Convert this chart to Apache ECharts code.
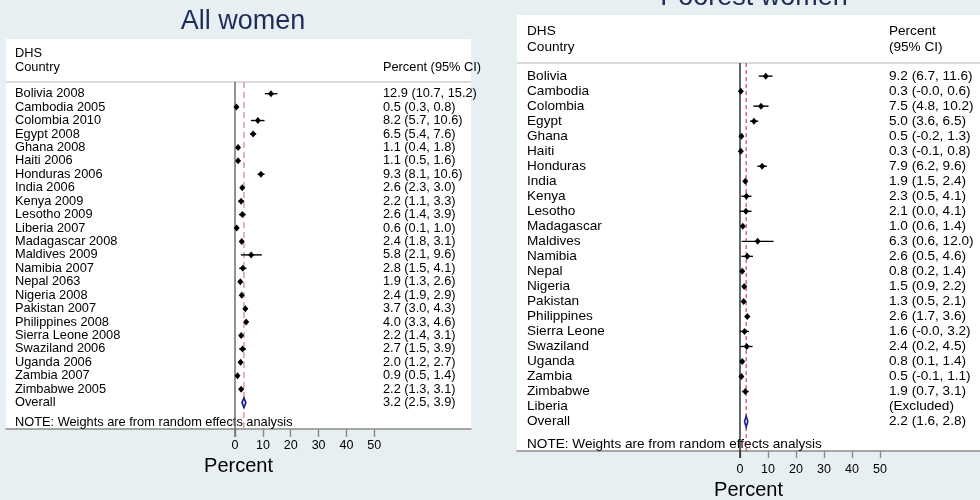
<!DOCTYPE html>
<html>
<head>
<meta charset="utf-8">
<script src="https://cdn.jsdelivr.net/npm/echarts@6/dist/echarts.min.js"></script>
<style>
  html, body { margin: 0; padding: 0; background: #e7eff2; }
  #chart { width: 980px; height: 500px; }
</style>
</head>
<body>
<div id="chart"></div>
<script>
// ---- All women: prevalence (%) with 95% CI by DHS survey ----
const allCountries = [
  'Bolivia 2008', 'Cambodia 2005', 'Colombia 2010', 'Egypt 2008', 'Ghana 2008',
  'Haiti 2006', 'Honduras 2006', 'India 2006', 'Kenya 2009', 'Lesotho 2009',
  'Liberia 2007', 'Madagascar 2008', 'Maldives 2009', 'Namibia 2007', 'Nepal 2063',
  'Nigeria 2008', 'Pakistan 2007', 'Philippines 2008', 'Sierra Leone 2008',
  'Swaziland 2006', 'Uganda 2006', 'Zambia 2007', 'Zimbabwe 2005'
];
const allEst = [12.9, 0.5, 8.2, 6.5, 1.1, 1.1, 9.3, 2.6, 2.2, 2.6, 0.6, 2.4, 5.8, 2.8, 1.9, 2.4, 3.7, 4.0, 2.2, 2.7, 2.0, 0.9, 2.2];
const allLo  = [10.7, 0.3, 5.7, 5.4, 0.4, 0.5, 8.1, 2.3, 1.1, 1.4, 0.1, 1.8, 2.1, 1.5, 1.3, 1.9, 3.0, 3.3, 1.4, 1.5, 1.2, 0.5, 1.3];
const allHi  = [15.2, 0.8, 10.6, 7.6, 1.8, 1.6, 10.6, 3.0, 3.3, 3.9, 1.0, 3.1, 9.6, 4.1, 2.6, 2.9, 4.3, 4.6, 3.1, 3.9, 2.7, 1.4, 3.1];
const allOverall = [3.2, 2.5, 3.9];

// ---- Poorest women (Liberia excluded) ----
const poorCountries = [
  'Bolivia', 'Cambodia', 'Colombia', 'Egypt', 'Ghana', 'Haiti', 'Honduras', 'India',
  'Kenya', 'Lesotho', 'Madagascar', 'Maldives', 'Namibia', 'Nepal', 'Nigeria',
  'Pakistan', 'Philippines', 'Sierra Leone', 'Swaziland', 'Uganda', 'Zambia',
  'Zimbabwe', 'Liberia'
];
const poorEst = [9.2, 0.3, 7.5, 5.0, 0.5, 0.3, 7.9, 1.9, 2.3, 2.1, 1.0, 6.3, 2.6, 0.8, 1.5, 1.3, 2.6, 1.6, 2.4, 0.8, 0.5, 1.9, null];
const poorLo  = [6.7, -0.0, 4.8, 3.6, -0.2, -0.1, 6.2, 1.5, 0.5, 0.0, 0.6, 0.6, 0.5, 0.2, 0.9, 0.5, 1.7, -0.0, 0.2, 0.1, -0.1, 0.7, null];
const poorHi  = [11.6, 0.6, 10.2, 6.5, 1.3, 0.8, 9.6, 2.4, 4.1, 4.1, 1.4, 12.0, 4.6, 1.4, 2.2, 2.1, 3.6, 3.2, 4.5, 1.4, 1.1, 3.1, null];
const poorOverall = [2.2, 1.6, 2.8];

const xTickValues = [0, 10, 20, 30, 40, 50];
const noteText = 'NOTE: Weights are from random effects analysis';

const FONT = "'Liberation Sans', Arial, Helvetica, sans-serif";

// one decimal, keeping the sign of a negative zero
function fmt(v) {
  if (v < 0 || Object.is(v, -0)) return '-' + Math.abs(v).toFixed(1);
  return v.toFixed(1);
}

function buildRows(names, est, lo, hi, overall) {
  const rows = names.map((n, i) => ({
    name: n, est: est[i], lo: lo[i], hi: hi[i], overall: false
  }));
  rows.push({ name: 'Overall', est: overall[0], lo: overall[1], hi: overall[2], overall: true });
  return rows;
}

const panels = [
  {
    title: 'All women', titleX: 238, titleTop: 3,
    grid: { left: 6, top: 39, width: 465, height: 390 },
    xMin: -82.2, xMax: 84.7,
    rows: buildRows(allCountries, allEst, allLo, allHi, allOverall),
    fontSize: 12.8, nameOffset: 9, ciTextX: 53.1,
    headerCI: ['Percent (95% CI)'],
    zeroColor: '#6e6e6e', zeroWidth: 1.5,
    refColor: '#d69c9e', refDash: [6, 4], refWidth: 1.5,
    labelMargin: 10, tickLen: 8, nameGap: 26
  },
  {
    title: 'Poorest women', titleX: 749, titleTop: -21,
    grid: { left: 517, top: 15, width: 463, height: 436 },
    xMin: -79.64, xMax: 85.71,
    rows: buildRows(poorCountries, poorEst, poorLo, poorHi, poorOverall),
    fontSize: 13.6, nameOffset: 10, ciTextX: 53.2,
    headerCI: ['Percent', '(95% CI)'],
    zeroColor: '#000000', zeroWidth: 1.2,
    refColor: '#c0262c', refDash: [4, 3], refWidth: 1,
    labelMargin: 12, tickLen: 7, nameGap: 26.5
  }
];

const ROW_MIN = -4.07, ROW_MAX = 24.96;
const SEP_ROW = -0.87, NOTE_ROW = 24.5;

const option = {
  animation: false,
  backgroundColor: '#e7eff2',
  title: panels.map(p => ({
    text: p.title,
    left: p.titleX,
    top: p.titleTop,
    textAlign: 'center',
    textStyle: { fontFamily: FONT, fontSize: 27, fontWeight: 'normal', color: '#1e2c58' }
  })),
  grid: panels.map(p => Object.assign({
    show: true, backgroundColor: '#ffffff', borderWidth: 0,
    containLabel: false, outerBoundsMode: 'none'
  }, p.grid)),
  xAxis: panels.map((p, k) => ({
    type: 'value', gridIndex: k, min: p.xMin, max: p.xMax, position: 'bottom',
    name: 'Percent', nameLocation: 'middle', nameGap: p.nameGap,
    nameTextStyle: { fontFamily: FONT, fontSize: 20, color: '#000' },
    axisLine: { show: true, onZero: false, lineStyle: { color: '#8a8a8a', width: 1.6 } },
    axisTick: { show: true, length: p.tickLen, customValues: xTickValues,
                lineStyle: { color: '#8a8a8a', width: 1.4 } },
    axisLabel: { show: true, customValues: xTickValues, margin: p.labelMargin,
                 fontFamily: FONT, fontSize: 12.5, color: '#000' },
    splitLine: { show: false }
  })),
  yAxis: panels.map((p, k) => ({
    type: 'value', gridIndex: k, min: ROW_MIN, max: ROW_MAX, inverse: true, show: false,
    axisLine: { onZero: false }
  })),
  series: []
};

panels.forEach((p, k) => {
  const font = p.fontSize + 'px ' + FONT;

  // frame: header text, separator, zero line, overall reference line, note
  option.series.push({
    type: 'custom',
    xAxisIndex: k, yAxisIndex: k,
    data: [[p.rows[p.rows.length - 1].est]],
    silent: true,
    z: 1,
    renderItem(params, api) {
      const cs = params.coordSys;
      const ov = api.value(0);
      const ySep = api.coord([0, SEP_ROW])[1];
      const yBot = cs.y + cs.height;
      const x0 = api.coord([0, 0])[0];
      const xOv = api.coord([ov, 0])[0];
      const xCI = api.coord([p.ciTextX, 0])[0];
      const yRow = r => api.coord([0, r])[1];
      const children = [
        { type: 'line', shape: { x1: cs.x, y1: ySep, x2: cs.x + cs.width, y2: ySep },
          style: { stroke: '#dadada', lineWidth: 2 } },
        { type: 'line', shape: { x1: x0, y1: ySep, x2: x0, y2: yBot + p.tickLen },
          style: { stroke: p.zeroColor, lineWidth: p.zeroWidth }, z2: 5 },
        { type: 'line', shape: { x1: xOv, y1: ySep, x2: xOv, y2: yBot },
          style: { stroke: p.refColor, lineWidth: p.refWidth, lineDash: p.refDash }, z2: 6 },
        { type: 'text', style: { x: cs.x + p.nameOffset, y: yRow(-3.0), text: 'DHS',
          font: font, fill: '#000', align: 'left', verticalAlign: 'middle' } },
        { type: 'text', style: { x: cs.x + p.nameOffset, y: yRow(-1.95), text: 'Country',
          font: font, fill: '#000', align: 'left', verticalAlign: 'middle' } },
        { type: 'text', style: { x: cs.x + p.nameOffset, y: yRow(NOTE_ROW), text: noteText,
          font: font, fill: '#000', align: 'left', verticalAlign: 'middle' } }
      ];
      const hdrRows = p.headerCI.length === 1 ? [-1.95] : [-3.0, -1.95];
      p.headerCI.forEach((t, j) => {
        children.push({ type: 'text', style: { x: xCI, y: yRow(hdrRows[j]), text: t,
          font: font, fill: '#000', align: 'left', verticalAlign: 'middle' } });
      });
      return { type: 'group', children };
    }
  });

  // study rows and pooled estimate
  option.series.push({
    type: 'custom',
    xAxisIndex: k, yAxisIndex: k,
    data: p.rows.map((r, i) => [i, r.est, r.lo, r.hi]),
    silent: true,
    z: 3,
    renderItem(params, api) {
      const cs = params.coordSys;
      const i = api.value(0);
      const r = p.rows[i];
      const y = api.coord([0, i])[1];
      const xCI = api.coord([p.ciTextX, i])[0];
      const children = [
        { type: 'text', style: { x: cs.x + p.nameOffset, y, text: r.name, font: font,
          fill: '#000', align: 'left', verticalAlign: 'middle' } }
      ];
      if (r.est == null) {
        children.push({ type: 'text', style: { x: xCI, y, text: '(Excluded)', font: font,
          fill: '#000', align: 'left', verticalAlign: 'middle' } });
        return { type: 'group', children };
      }
      const est = api.value(1), lo = api.value(2), hi = api.value(3);
      const xe = api.coord([est, i])[0];
      const xl = api.coord([lo, i])[0];
      const xh = api.coord([hi, i])[0];
      if (r.overall) {
        const yT = api.coord([0, i - 0.36])[1];
        const yB = api.coord([0, i + 0.36])[1];
        children.push({ type: 'polygon',
          shape: { points: [[xl, y], [xe, yT], [xh, y], [xe, yB]] },
          style: { fill: '#e8e8f4', stroke: '#1f1f86', lineWidth: 1.6 }, z2: 8 });
      } else {
        children.push({ type: 'line', shape: { x1: xl, y1: y, x2: xh, y2: y },
          style: { stroke: '#000', lineWidth: 1.4 }, z2: 8 });
        children.push({ type: 'polygon',
          shape: { points: [[xe - 3, y], [xe, y - 3.5], [xe + 3, y], [xe, y + 3.5]] },
          style: { fill: '#000' }, z2: 9 });
      }
      children.push({ type: 'text', style: { x: xCI, y,
        text: fmt(est) + ' (' + fmt(lo) + ', ' + fmt(hi) + ')', font: font,
        fill: '#000', align: 'left', verticalAlign: 'middle' } });
      return { type: 'group', children };
    }
  });
});

const chart = echarts.init(document.getElementById('chart'), null, { renderer: 'canvas' });
chart.setOption(option);
</script>
</body>
</html>
